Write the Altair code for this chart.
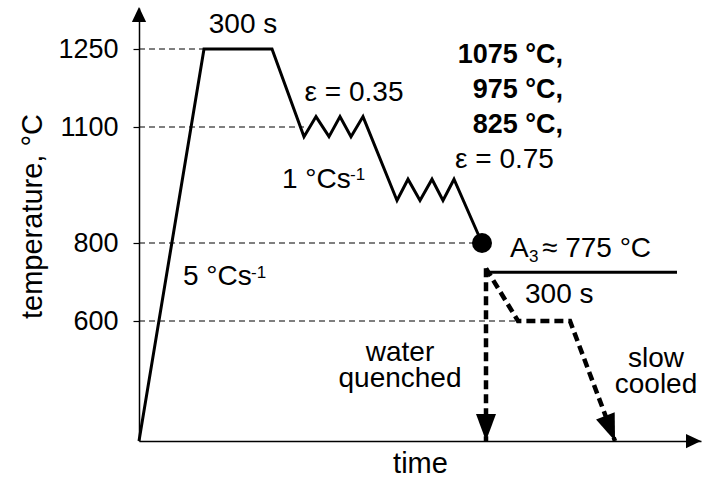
import altair as alt
import pandas as pd

FONT = "Liberation Sans"

# ---- data read from the schematic (time in arbitrary units, temperature in °C) ----
main_time = [0, 65, 133, 165, 177, 190, 201, 212, 224, 258, 269, 281, 293, 304, 315, 343]
main_temp = [20, 1250, 1250, 1075, 1120, 1075, 1120, 1075, 1120, 910, 965, 910, 965, 910, 965, 800]

ref_temps = [1250, 1100, 800, 600]
ref_ends = [65, 165, 343, 379]

a3_time = [349, 538]
a3_temp = [725, 725]

wq_time = [347, 347]
wq_temp = [735, 20]

sc_time = [347, 379, 431, 476]
sc_temp = [735, 600, 600, 20]

dot_time = [343]
dot_temp = [800]

tick_values = [600, 800, 1100, 1250]

# annotations
c_text = ["300 s", "ε = 0.35", "water\nquenched", "slow\ncooled"]
c_time = [104, 215, 261, 517]
c_temp = [1281, 1150, 407, 378]

l_text = ["1 °Cs", "5 °Cs", "A", "≈ 775 °C", "300 s", "ε = 0.75"]
l_time = [143, 44, 371, 403, 386, 316]
l_temp = [942, 692, 764, 764, 646, 994]

s_text = ["-1", "-1", "3"]
s_time = [211, 112, 390]
s_temp = [963, 710, 751]

b_text = ["1075 °C,", "975 °C,", "825 °C,"]
b_time = [424, 424, 424]
b_temp = [1223, 1156, 1084]

# ---- scales ----
xs = alt.Scale(domain=[0, 562], nice=False, zero=False)
ys = alt.Scale(domain=[20, 600, 800, 1100, 1250, 1330],
               range=[433, 313, 235, 119, 41, 0], nice=False, zero=False)

x_axis = alt.Axis(title="time", ticks=False, labels=False, grid=False,
                  domainColor="black", domainWidth=1.5,
                  titleFont=FONT, titleFontSize=29, titleFontWeight="normal",
                  titleColor="black", titlePadding=8)
y_axis = alt.Axis(title="temperature, °C", values=tick_values, format="d", grid=False,
                  tickSize=6, tickColor="black", tickWidth=1.2,
                  domainColor="black", domainWidth=1.5,
                  labelFont=FONT, labelFontSize=27, labelColor="black",
                  labelPadding=15,
                  titleFont=FONT, titleFontSize=29, titleFontWeight="normal",
                  titleColor="black", titleAngle=270, titleAlign="center",
                  titleBaseline="middle", titleX=-107, titleY=208)


def X(field="t"):
    return alt.X(f"{field}:Q", scale=xs, axis=x_axis)


def Y(field="T"):
    return alt.Y(f"{field}:Q", scale=ys, axis=y_axis)


main_df = pd.DataFrame({"t": main_time, "T": main_temp, "i": range(len(main_time))})
ref_df = pd.DataFrame({"t": [0] * len(ref_temps), "t2": ref_ends, "T": ref_temps})
a3_df = pd.DataFrame({"t": a3_time, "T": a3_temp})
wq_df = pd.DataFrame({"t": wq_time, "T": wq_temp, "i": range(len(wq_time))})
sc_df = pd.DataFrame({"t": sc_time, "T": sc_temp, "i": range(len(sc_time))})
dot_df = pd.DataFrame({"t": dot_time, "T": dot_temp})

ref = alt.Chart(ref_df).mark_rule(color="black", strokeWidth=1.2, strokeDash=[6, 4]).encode(
    x=X(), x2="t2:Q", y=Y())

main = alt.Chart(main_df).mark_line(color="black", strokeWidth=3, strokeJoin="miter").encode(
    x=X(), y=Y(), order="i:Q")

a3 = alt.Chart(a3_df).mark_line(color="black", strokeWidth=3).encode(x=X(), y=Y())

wq = alt.Chart(wq_df).mark_line(color="black", strokeWidth=4.5, strokeDash=[9, 5]).encode(
    x=X(), y=Y(), order="i:Q")
sc = alt.Chart(sc_df).mark_line(color="black", strokeWidth=4.5, strokeDash=[9, 5]).encode(
    x=X(), y=Y(), order="i:Q")

dot = alt.Chart(dot_df).mark_circle(color="black", size=400, opacity=1).encode(x=X(), y=Y())

# arrowheads (elongated triangles, tip placed on the end point)
HEAD = "M-0.74,-1L0.74,-1L0,1Z"
wq_head = alt.Chart(pd.DataFrame({"t": [wq_time[-1]], "T": [wq_temp[-1]]})).mark_point(
    shape=HEAD, size=729, filled=True, color="black", opacity=1, yOffset=-13.5
).encode(x=X(), y=Y())
sc_head = alt.Chart(pd.DataFrame({"t": [sc_time[-1]], "T": [sc_temp[-1]]})).mark_point(
    shape=HEAD, size=729, filled=True, color="black", opacity=1,
    angle=339, xOffset=-4.8, yOffset=-12.6
).encode(x=X(), y=Y())

y_head = alt.Chart(pd.DataFrame({"t": [0], "T": [1330]})).mark_point(
    shape="M0,-1L0.95,1L-0.95,1Z", size=225, filled=True, color="black", opacity=1, yOffset=6.5
).encode(x=X(), y=Y())
x_head = alt.Chart(pd.DataFrame({"t": [562], "T": [20]})).mark_point(
    shape="M1,0L-1,-0.95L-1,0.95Z", size=225, filled=True, color="black", opacity=1, xOffset=-7.5
).encode(x=X(), y=Y())


def text_layer(texts, times, temps, align, size, weight="normal", line_height=26):
    df = pd.DataFrame({"txt": texts, "t": times, "T": temps})
    return alt.Chart(df).mark_text(align=align, baseline="alphabetic", font=FONT,
                                   fontSize=size, fontWeight=weight, color="black",
                                   lineBreak="\n", lineHeight=line_height).encode(
        x=X(), y=Y(), text="txt:N")


txt_c = text_layer(c_text, c_time, c_temp, "center", 28)
txt_l = text_layer(l_text, l_time, l_temp, "left", 28)
txt_s = text_layer(s_text, s_time, s_temp, "left", 17)
txt_b = text_layer(b_text, b_time, b_temp, "right", 27, "bold")

chart = alt.layer(
    ref, main, a3, wq, sc, dot, wq_head, sc_head, y_head, x_head,
    txt_c, txt_l, txt_s, txt_b
).properties(
    width=562, height=433,
    autosize=alt.AutoSizeParams(type="none"),
    padding={"left": 139, "top": 8, "right": 2, "bottom": 46},
    background="white"
).configure_view(stroke=None)

chart.save("out.html", embed_options={"renderer": "svg", "actions": False})
